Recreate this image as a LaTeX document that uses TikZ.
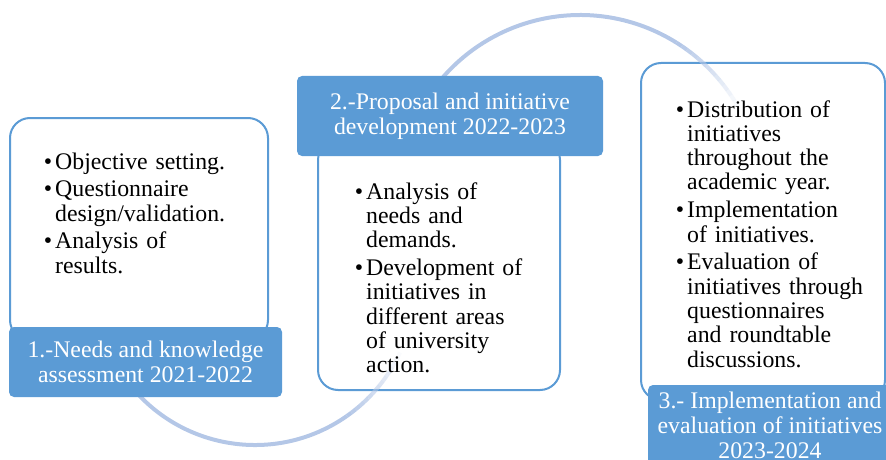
\documentclass[tikz,border=0pt]{standalone}
\usepackage{fontspec}
\setmainfont{Liberation Serif}
\definecolor{stageblue}{RGB}{91,155,213}
\definecolor{arcblue}{RGB}{180,199,231}
\newcommand{\notefont}{\fontsize{23.8}{24.3}\selectfont\setlength{\parskip}{3.5pt}}
\newcommand{\tabfont}{\fontsize{23.8}{25}\selectfont}
% bullet with hanging indent
\newcommand{\bul}{\par\leftskip=11pt\noindent\llap{\textbullet\hspace{3pt}}}
\tikzset{
  card/.style    = {draw=stageblue, line width=2pt, fill=white, rounded corners=20pt},
  tab/.style     = {fill=stageblue, rounded corners=5pt, text=white, align=center, font=\tabfont},
  notes/.style   = {anchor=north west, inner sep=0pt, text width=230pt, align=left, font=\notefont},
  arcline/.style = {draw=arcblue, line width=4pt},
}
\begin{document}
\begin{tikzpicture}[x=1pt, y=1pt]
  \useasboundingbox (0,0) rectangle (886,459);
  \clip (0,0) rectangle (886,459);

  % outlined cards
  \node[card, minimum width=258pt, minimum height=222pt] (assess)    at (139,230)   {};
  \node[card, minimum width=242pt, minimum height=250pt] (propose)   at (439,194)   {};
  \node[card, minimum width=244pt, minimum height=337pt] (implement) at (763,227.5) {};

  % bending arcs, fading out at the far end
  \coordinate (lowc)  at (255,174);
  \coordinate (highc) at (580,262);
  \draw[arcline] (lowc) ++(215:160) arc[start angle=215, end angle=305, radius=160];
  \foreach \k [evaluate=\k as \op using 1-\k/15] in {0,...,14}
    \draw[arcline, opacity=\op] (lowc) ++(305+2*\k:160) arc[start angle=305+2*\k, delta angle=2, radius=160];
  \draw[arcline] (highc) ++(145:182) arc[start angle=145, end angle=58, radius=182];
  \foreach \k [evaluate=\k as \op using 1-\k/14] in {0,...,13}
    \draw[arcline, opacity=\op] (highc) ++(58-2*\k:182) arc[start angle=58-2*\k, delta angle=-2, radius=182];

  % bullet lists
  \node[notes] (assesstxt) at (44,318) {%
    \bul Objective setting.
    \bul Questionnaire\\design/validation.
    \bul Analysis of\\results.\par};
  \node[notes] (proposetxt) at (355,288) {%
    \bul Analysis of\\needs and\\demands.
    \bul Development of\\initiatives in\\different areas\\of university\\action.\par};
  \node[notes] (implementtxt) at (676,370) {%
    \bul Distribution of\\initiatives\\throughout the\\academic year.
    \bul Implementation\\of initiatives.
    \bul Evaluation of\\initiatives through\\questionnaires\\and roundtable\\discussions.\par};

  % stage tabs
  \node[tab, minimum width=273pt, minimum height=70pt] (assesslbl) at (145.5,97)
       {1.-Needs and knowledge\\assessment 2021-2022};
  \node[tab, minimum width=306pt, minimum height=80pt] (proposelbl) at (450,343)
       {2.-Proposal and initiative\\development 2022-2023};
  \node[tab, minimum width=244pt, minimum height=80pt] (implementlbl) at (770,34)
       {3.- Implementation and\\evaluation of initiatives\\2023-2024};
\end{tikzpicture}
\end{document}
